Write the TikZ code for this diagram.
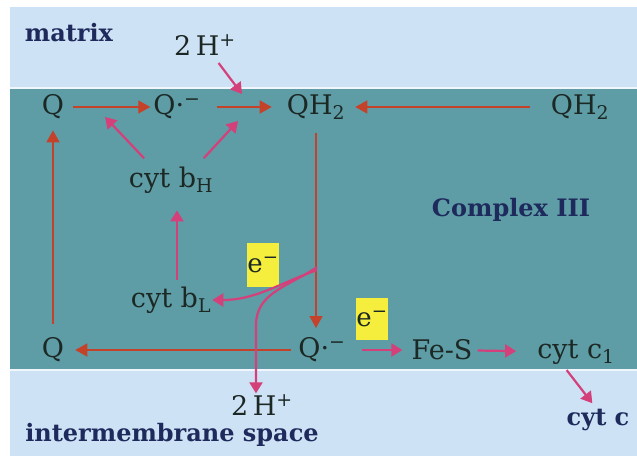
\documentclass[tikz,border=0pt]{standalone}
\usepackage{fontspec}
\setmainfont{DejaVu Serif}
\usepackage{tikz}
\usetikzlibrary{arrows.meta, positioning}
\definecolor{matrixblue}{RGB}{206,226,245}
\definecolor{membteal}{RGB}{94,156,166}
\definecolor{redarrow}{RGB}{196,66,42}
\definecolor{pinkarrow}{RGB}{212,64,122}
\definecolor{labelnavy}{RGB}{30,42,92}
\definecolor{eyellow}{RGB}{246,238,60}
\definecolor{speciesdark}{RGB}{28,40,36}

\begin{document}
\begin{tikzpicture}[x=1pt,y=-1pt,
   redarr/.style={draw=redarrow, line width=1.6pt, -{Triangle[length=12pt,width=13pt]}},
   pinkarr/.style={draw=pinkarrow, line width=2.2pt, -{Triangle[length=11pt,width=13pt]}}]
 \useasboundingbox (0,0) rectangle (637,460);
 % membrane and the two spaces
 \fill[matrixblue] (10,7) rectangle (637,456);
 \fill[membteal] (10,88) rectangle (637,370);
 \draw[white!70!matrixblue, line width=1.2pt] (10,88) -- (637,88);
 \draw[white!70!matrixblue, line width=1.2pt] (10,370) -- (637,370);

 \begin{scope}[every node/.style={font=\fontsize{27}{31}\selectfont, text=speciesdark, inner sep=1pt}]
    \node (q1) at (53,107) {Q};
    \node (qr1) at (177,107) {Q·\textsuperscript{−}};
    \node (qh2m) at (316,107) {QH\textsubscript{2}};
    \node (qh2r) at (580,107) {QH\textsubscript{2}};
    \node (h2top) at (205,45) {2\,H\textsuperscript{+}};
    \node (cytbh) at (171,180) {cyt b\textsubscript{H}};
    \node (cytbl) at (171,300) {cyt b\textsubscript{L}};
    \node (q2) at (53,350) {Q};
    \node (qr2) at (322,350) {Q·\textsuperscript{−}};
    \node (fes) at (442,350) {Fe-S};
    \node (cytc1) at (576,352) {cyt c\textsubscript{1}};
    \node (h2bot) at (262,405) {2\,H\textsuperscript{+}};
 \end{scope}
 \begin{scope}[every node/.style={font=\fontsize{24}{28}\selectfont\bfseries, text=labelnavy, inner sep=1pt}]
    \node (matrixlbl) at (69,33) {matrix};
    \node (complexlbl) at (511,210) {Complex III};
    \node (interlbl) at (172,435) {intermembrane space};
    \node (cytc) at (598,420) {cyt c};
 \end{scope}
 \begin{scope}[every node/.style={fill=eyellow, minimum width=30pt, inner sep=0pt, text=speciesdark, font=\fontsize{26}{30}\selectfont}]
    \node (e1) [minimum height=44pt] at (263,265) {e\textsuperscript{−}};
    \node (e2) [minimum height=42pt] at (372,319) {e\textsuperscript{−}};
 \end{scope}

 \coordinate (qmid) at (105,117);
 \coordinate (hin) at (242,94);
 \coordinate (hout) at (238,121);
 \coordinate (split) at (317,270);
 \coordinate (bend) at (256,325);

 % Q cycle, red
 \draw[redarr, shorten <=8pt, shorten >=2pt] (q1) -- (qr1);
 \draw[redarr, shorten <=15pt, shorten >=14pt] (qr1) -- (qh2m);
 \draw[redarr, shorten <=20pt, shorten >=9pt] (qh2r) -- (qh2m);
 \draw[redarr, shorten <=12pt, shorten >=22pt] (qh2m) -- (qh2m |- qr2);
 \draw[redarr, shorten <=6pt, shorten >=10pt] (qr2) -- (q2);
 \draw[redarr, shorten <=13pt, shorten >=10pt] (q2) -- (q1);

 % electrons and protons, pink
 \draw[pinkarr, shorten <=8pt] (h2top) -- (hin);
 \draw[pinkarr, shorten <=10pt] ([xshift=-20pt]cytbh.north) -- (qmid);
 \draw[pinkarr, shorten <=10pt] ([xshift=26pt]cytbh.north) -- (hout);
 \draw[pinkarr, shorten <=6pt, shorten >=16pt] ([xshift=6pt]cytbl.north) -- ([xshift=6pt]cytbh.south);
 \draw[pinkarr] (split) to[out=200,in=0] (cytbl.east);
 \draw[pinkarr] ([yshift=3pt]split) to[out=215,in=90] (bend) -- (bend |- h2bot.north);
 \draw[pinkarr, shorten <=15pt, shorten >=8pt] (qr2) -- (fes);
 \draw[pinkarr, shorten <=4pt, shorten >=20pt] (fes) -- (cytc1);
 \draw[pinkarr, shorten <=6pt, shorten >=6pt] ([xshift=-13pt]cytc1.south) -- ([xshift=-2pt]cytc.north);
\end{tikzpicture}
\end{document}
